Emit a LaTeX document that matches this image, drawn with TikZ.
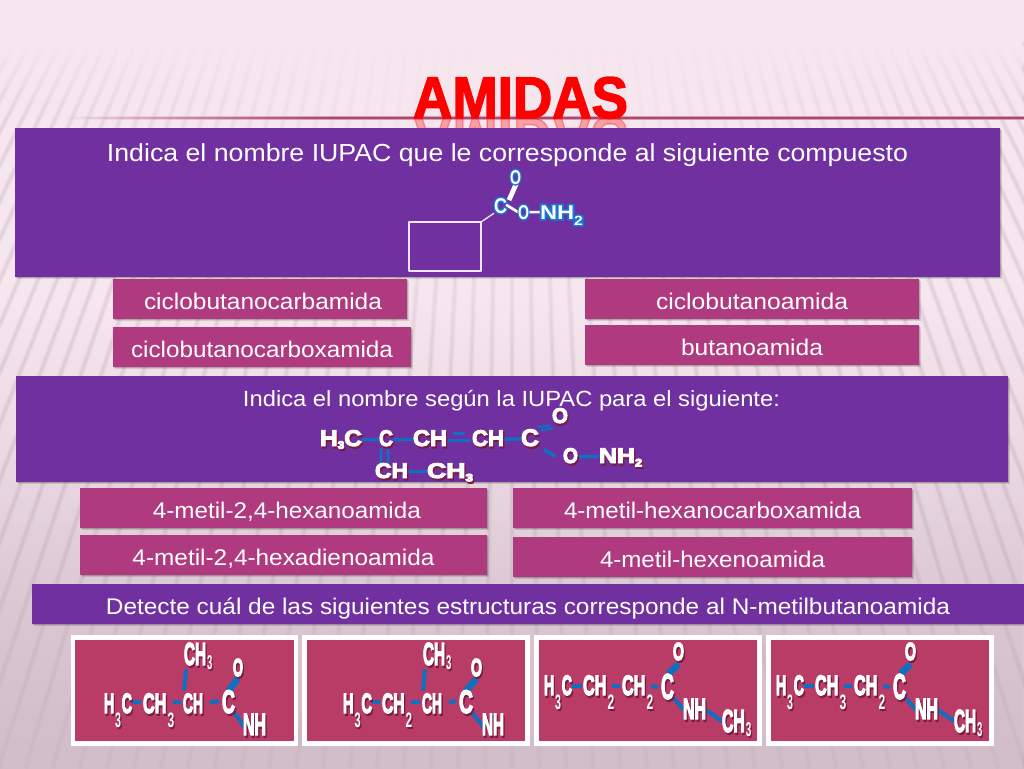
\documentclass[tikz,border=0pt]{standalone}
\usepackage{fontspec}
\setmainfont{Liberation Sans}
\newfontfamily\chemf{Liberation Sans Bold}
\newfontfamily\titlef{Liberation Sans Bold}
\usetikzlibrary{fadings,shadows}
\definecolor{bgtop}{HTML}{F6E6EE}
\definecolor{bgbot}{HTML}{D2BEC9}
\definecolor{stripe}{HTML}{8F7486}
\definecolor{purp}{HTML}{7030A0}
\definecolor{mag}{HTML}{B03A80}
\definecolor{crim}{HTML}{B83C66}
\definecolor{shd}{HTML}{7A1C42}
\definecolor{bondblue}{HTML}{0F6FC0}
\definecolor{glow}{HTML}{1478D8}
\definecolor{rule}{HTML}{B0466E}
\newdimen\pxu \pxu=.75pt
\newcommand\fw[2]{\resizebox{#1\pxu}{\height}{#2}}
\newcommand\at[2]{\raisebox{-7.5pt}[0pt][0pt]{\fw{#1}{#2}}}
\newcommand\lowd[3]{\raisebox{-#1pt}[0pt][0pt]{\fontsize{#2}{#2}\selectfont #3}}
\newcommand\strk[2]{\special{pdf:code 2 Tr #1 w}#2\special{pdf:code 0 Tr}}
\newcommand\stw{.7}
\newcommand\cm[3]{{\fontsize{#2}{#2}\chemf\rlap{\kern1pt\raisebox{-1.6pt}{\color{shd}\resizebox{#1\pxu}{\height}{\strk{\stw}{#3}}}}\color{white}\resizebox{#1\pxu}{\height}{\strk{\stw}{#3}}}}
\newcommand\cg[3]{{\fontsize{#2}{#2}\rlap{\chemf\color{glow}\resizebox{#1\pxu}{\height}{\strk{2.4}{#3}}}\chemf\color{white}\resizebox{#1\pxu}{\height}{#3}}}
\newcommand\plainsub[3]{\kern1.5pt\special{pdf:code 0 Tr}\lowd{#1}{#2}{#3}\special{pdf:code 2 Tr}\kern1pt}
\newcommand\sthree{\plainsub{10.5}{15.7}{3}}
\newcommand\stwo{\plainsub{10.5}{15.7}{2}}
\newcommand\tthree{\plainsub{3}{15}{3}}
\tikzfading[name=vfade,top color=transparent!0,bottom color=transparent!100]
\tikzfading[name=vfadeup,top color=transparent!100,bottom color=transparent!35]
\tikzfading[name=hfade,left color=transparent!100,right color=transparent!0]
\tikzfading[name=dome,inner color=transparent!0,outer color=transparent!100]
\tikzset{
  px/.style 2 args={minimum width=#1*0.75pt,minimum height=#2*0.75pt},
  softshadow/.style={general shadow={fill=black,opacity=.12,shadow xshift=1.2pt,shadow yshift=-1.8pt},
                     general shadow={fill=black,opacity=.16,shadow xshift=.5pt,shadow yshift=-1pt}},
  pbox/.style={fill=purp,text=white,inner sep=0pt,softshadow},
  abox/.style={fill=mag,text=white,inner sep=0pt,softshadow,font=\fontsize{17}{17}\selectfont},
  card/.style={fill=crim,draw=white,line width=3.4pt,inner sep=0pt},
  atom/.style={anchor=base west,inner sep=0pt,outer sep=0pt},
  btxt/.style={text=white,inner sep=0pt,anchor=base,font=\fontsize{18.5}{18.5}\selectfont},
  bondc/.style={draw=bondblue,line width=3pt},
  bondo/.style={draw=bondblue,line width=5pt},
  bondm/.style={draw=bondblue,line width=2.6pt},
  bondw/.style={draw=white,line width=2pt},
  ring/.style={draw=white!88!purp,line width=1.7pt}
}
\pgfdeclarelayer{base}\pgfdeclarelayer{bond}
\pgfsetlayers{base,bond,main}
\begin{document}
\begin{tikzpicture}[x=.75pt,y=-.75pt]
\useasboundingbox (0,0) rectangle (1024,768);
\begin{pgfonlayer}{base}
% background
\fill[bgtop] (0,0) rectangle (1024,768);
\shade[top color=bgtop,bottom color=bgbot] (0,300) rectangle (1024,768);
\begin{scope}
\clip (0,40) rectangle (1024,768);
\foreach \s in {-46,...,46}{
  \pgfmathsetmacro\xa{512+\s*0.0165*910}
  \pgfmathsetmacro\xb{512+\s*0.0165*1638}
  \draw[stripe,line width=4.4pt,opacity=.05] (\xa,40) -- (\xb,768);
  \draw[stripe,line width=3pt,opacity=.06] (\xa,40) -- (\xb,768);
  \draw[stripe,line width=1.6pt,opacity=.07] (\xa,40) -- (\xb,768);
}
\end{scope}
\fill[bgbot,path fading=vfadeup] (0,480) rectangle (1024,768);
\fill[bgtop] (0,0) rectangle (1024,42);
\fill[bgtop,path fading=vfade] (0,42) rectangle (1024,130);
\fill[bgtop,path fading=dome] (512,100) ellipse (520 and 290);
% title rule
\fill[rule!45!bgtop,path fading=hfade] (65,116) rectangle (330,120);
\fill[rule,path fading=hfade] (65,117) rectangle (330,119);
\fill[rule!45!bgtop] (330,116) rectangle (1024,120);
\fill[rule] (330,117) rectangle (1024,119);
% title with reflection
\node[inner sep=0pt,anchor=base,text=red] (title) at (520.5,118)
  {\fontsize{44}{44}\titlef\fw{215}{\strk{1.1}{AMIDAS}}};
\begin{scope}
\clip (400,118) rectangle (640,128);
\node[inner sep=0pt,anchor=base,text=red,opacity=.3,yscale=-1,transform shape] (titlerefl) at (520.5,118)
  {\fontsize{44}{44}\titlef\fw{215}{\strk{1.1}{AMIDAS}}};
\end{scope}
% question panels
\node[pbox,px={985}{149}] (q1) at (507.5,202.5) {};
\node[btxt] (q1t) at (507.5,161) {\fw{801}{Indica el nombre IUPAC que le corresponde al siguiente compuesto}};
\node[pbox,px={992}{106}] (q2) at (512,429) {};
\node[btxt] (q2t) at (511.5,406) {\fontsize{16.5}{16.5}\selectfont\fw{537}{Indica el nombre según la IUPAC para el siguiente:}};
\node[pbox,px={992}{40},font=\fontsize{17}{17}\selectfont] (q3) at (528,604) {\at{844}{Detecte cuál de las siguientes estructuras corresponde al N-metilbutanoamida}};
% answers
\node[abox,px={294}{40}] (a1) at (260,299) {\hspace*{4.5pt}\at{238}{ciclobutanocarbamida}};
\node[abox,px={298}{40}] (a2) at (262,347) {\at{262}{ciclobutanocarboxamida}};
\node[abox,px={334}{40}] (a3) at (752,299) {\at{192}{ciclobutanoamida}};
\node[abox,px={334}{40}] (a4) at (752,345) {\at{142}{butanoamida}};
\node[abox,px={407}{40}] (b1) at (283.5,508) {\hspace*{5pt}\at{268}{4-metil-2,4-hexanoamida}};
\node[abox,px={399}{40}] (b2) at (712.5,508) {\at{297}{4-metil-hexanocarboxamida}};
\node[abox,px={407}{40}] (b3) at (283.5,555) {\at{302}{4-metil-2,4-hexadienoamida}};
\node[abox,px={399}{40}] (b4) at (712.5,557) {\at{225}{4-metil-hexenoamida}};
% cards
\node[card,px={223}{106}] (c1) at (184.5,690.5) {};
\node[card,px={223}{106}] (c2) at (416,690.5) {};
\node[card,px={223}{106}] (c3) at (648,690.5) {};
\node[card,px={223}{106}] (c4) at (880,690.5) {};
% cyclobutane
\coordinate (r1) at (409,222);
\coordinate (r2) at (481,222);
\coordinate (r3) at (481,271);
\coordinate (r4) at (409,271);
\draw[ring,line join=round] (r1) -- (r2) -- (r3) -- (r4) -- cycle;
\end{pgfonlayer}

% molecule 1
\node[atom] (m1c) at (494,213) {\cg{13}{16}{C}};
\node[atom] (m1o) at (510,184) {\cg{11}{15}{O}};
\node[atom] (m1o2) at (518,219) {\cg{11}{15}{O}};
\node[atom] (m1n) at (540,219) {\cg{43}{15}{NH\raisebox{-4.5pt}[0pt][0pt]{\fontsize{10}{10}\selectfont 2}}};
\begin{pgfonlayer}{bond}
\draw[bondw,line width=3.6pt] ([shift={(2,2)}]m1c.north east) -- ([shift={(1,-1)}]m1o.south);
\draw[bondw] ([shift={(-1,-1)}]m1c.east) -- ([shift={(0,0)}]m1o2.west);
\draw[bondw] (m1o2.east) -- (m1n.west);
\draw[ring,line width=1pt] (r2) -- (m1c.south west);
\end{pgfonlayer}

% molecule 2
\node[atom] (m2a) at (320,446) {\cm{42}{17}{H\lowd{2}{8}{3}C}};
\node[atom] (m2b) at (379,446) {\cm{14}{17}{C}};
\node[atom] (m2c) at (413,446) {\cm{34}{17}{CH}};
\node[atom] (m2d) at (472,446) {\cm{32}{17}{CH}};
\node[atom] (m2e) at (521,446) {\cm{18}{18}{C}};
\node[atom] (m2f) at (552,423) {\cm{16}{16}{O}};
\node[atom] (m2g) at (563,463) {\cm{15}{16}{O}};
\node[atom] (m2h) at (599,463) {\cm{43}{16}{NH\lowd{2.5}{8}{2}}};
\node[atom] (m2i) at (375,478) {\cm{33}{16}{CH}};
\node[atom] (m2j) at (427,478) {\cm{46}{16}{CH\lowd{2.5}{8}{3}}};
\begin{pgfonlayer}{bond}
\draw[bondm] (m2a) -- (m2b);
\draw[bondm] (m2b) -- (m2c);
\draw[bondm] ([shift={(1,1)}]m2c.east) -- ([shift={(-2,1)}]m2d.west);
\draw[bondm] ([shift={(6,-6)}]m2c.east) -- ([shift={(-7,-6)}]m2d.west);
\draw[bondm] (m2d) -- (m2e);
\draw[bondm,line width=1.8pt] ([shift={(-1,-2)}]m2e.north east) -- ([shift={(-2,0)}]m2f.south west);
\draw[bondm,line width=1.8pt] ([shift={(2,1)}]m2e.north east) -- ([shift={(1,3)}]m2f.south west);
\draw[bondm] ([shift={(5,1)}]m2e.south east) -- ([shift={(-8,0)}]m2g.west);
\draw[bondm] (m2g) -- (m2h);
\draw[bondm,line width=2.2pt] ([shift={(-5,0)}]m2b.south) -- ([shift={(-10.5,0)}]m2i.north);
\draw[bondm,line width=2.2pt] ([shift={(2,0)}]m2b.south) -- ([shift={(-3.5,0)}]m2i.north);
\draw[bondm] (m2i) -- (m2j);
\end{pgfonlayer}

\renewcommand\stw{1.1}
% card 1
\node[atom] (a1h) at (104,713) {\cm{28}{21}{H\sthree C}};
\node[atom] (a1i) at (143,713) {\cm{32}{21}{CH\sthree}};
\node[atom] (a1j) at (183,713) {\cm{20}{21}{CH}};
\node[atom] (a1k) at (222,713) {\cm{13}{24.5}{C}};
\node[atom] (a1o) at (233,676) {\cm{10}{18.5}{O}};
\node[atom] (a1n) at (243,735) {\cm{23}{23}{NH}};
\node[atom] (a1m) at (184,665) {\cm{29}{24}{CH\tthree}};
% card 2
\node[atom] (a2h) at (343,713) {\cm{29}{21}{H\sthree C}};
\node[atom] (a2i) at (382,713) {\cm{31}{21}{CH\stwo}};
\node[atom] (a2j) at (422,713) {\cm{20}{21}{CH}};
\node[atom] (a2k) at (459,713) {\cm{14}{24.5}{C}};
\node[atom] (a2o) at (471,676) {\cm{11}{18.5}{O}};
\node[atom] (a2n) at (482,735) {\cm{22}{23}{NH}};
\node[atom] (a2m) at (423,665) {\cm{29}{24}{CH\tthree}};
% card 3
\node[atom] (a3h) at (544,695) {\cm{28}{21}{H\sthree C}};
\node[atom] (a3i) at (583,695) {\cm{32}{21}{CH\stwo}};
\node[atom] (a3j) at (622,695) {\cm{32}{21}{CH\stwo}};
\node[atom] (a3k) at (661,699) {\cm{13}{27}{C}};
\node[atom] (a3o) at (673,660) {\cm{11}{18.5}{O}};
\node[atom] (a3n) at (683,719) {\cm{23}{22}{NH}};
\node[atom] (a3m) at (722,732) {\cm{30}{24}{CH\tthree}};
% card 4
\node[atom] (a4h) at (776,695) {\cm{28}{21}{H\sthree C}};
\node[atom] (a4i) at (815,695) {\cm{32}{21}{CH\sthree}};
\node[atom] (a4j) at (854,695) {\cm{32}{21}{CH\stwo}};
\node[atom] (a4k) at (893,699) {\cm{13}{27}{C}};
\node[atom] (a4o) at (905,660) {\cm{11}{18.5}{O}};
\node[atom] (a4n) at (915,719) {\cm{23}{22}{NH}};
\node[atom] (a4m) at (954,732) {\cm{29}{24}{CH\tthree}};

\begin{pgfonlayer}{bond}
\foreach \c in {a1,a2}{
  \draw[bondc] ([shift={(0,-2)}]\c h.east) -- ([shift={(-2,-2)}]\c i.west);
  \draw[bondc] ([shift={(-2,-2)}]\c i.east) -- ([shift={(-2,-2)}]\c j.west);
  \draw[bondc] ([shift={(7,-2)}]\c j.east) -- ([shift={(-3,-2)}]\c k.west);
  \draw[bondc] ([shift={(2,2)}]\c m.south west) -- ([shift={(1,-3)}]\c j.north west);
  \draw[bondo] ([shift={(0,1)}]\c k.north) -- (\c o.south);
  \draw[bondc] ([shift={(-1,-3)}]\c k.south east) -- ([shift={(2,2)}]\c n.west);
}
\foreach \c in {a3,a4}{
  \draw[bondc] (\c h.east) -- ([shift={(-1,0)}]\c i.west);
  \draw[bondc] ([shift={(-3,0)}]\c i.east) -- ([shift={(-2,0)}]\c j.west);
  \draw[bondc] ([shift={(-3,0)}]\c j.east) -- ([shift={(-3,-1)}]\c k.west);
  \draw[bondo] ([shift={(1,0)}]\c k.north) -- ([shift={(0,2)}]\c o.south);
  \draw[bondc] ([shift={(-1,-4)}]\c k.south east) -- ([shift={(1,0)}]\c n.west);
  \draw[bondc] (\c n.east) -- ([shift={(0,-1)}]\c m.west);
}
\end{pgfonlayer}
\end{tikzpicture}
\end{document}
